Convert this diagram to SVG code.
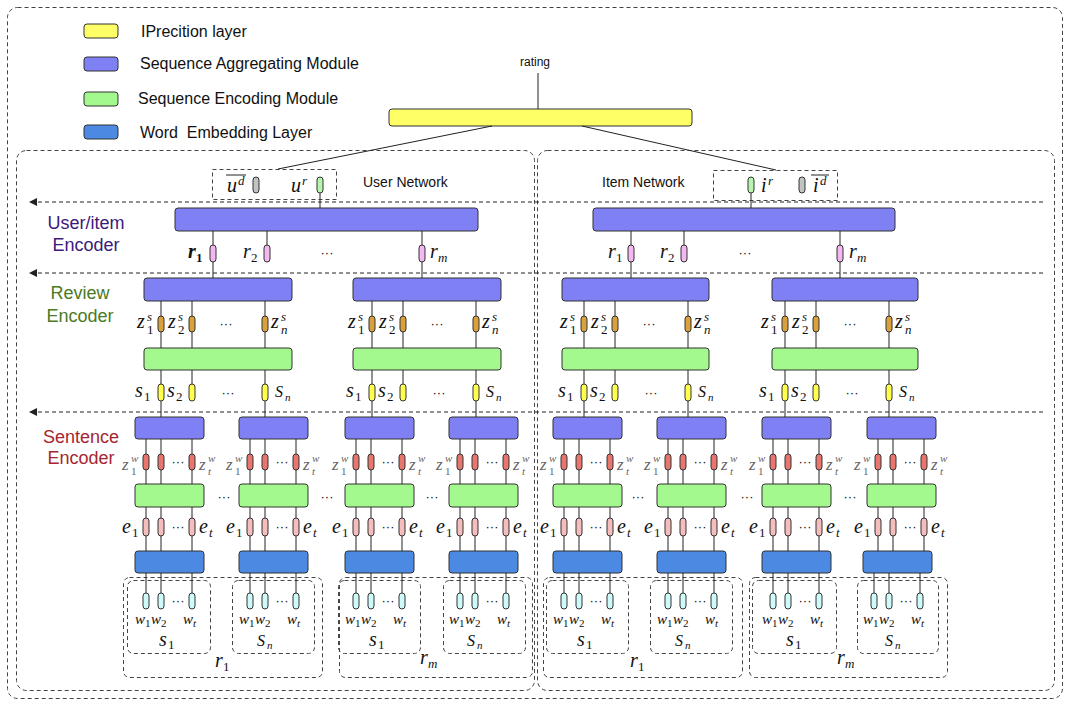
<svg xmlns="http://www.w3.org/2000/svg" width="1070" height="706" viewBox="0 0 1070 706">
<defs>
<marker id="ah" markerWidth="8" markerHeight="8" refX="8" refY="4" orient="auto" markerUnits="userSpaceOnUse"><path d="M0,0 L8,4 L0,8 z" fill="#222"/></marker>
<style>
.d{fill:none;stroke:#444;stroke-width:1;stroke-dasharray:4 3}
.da{fill:none;stroke:#222;stroke-width:1;stroke-dasharray:4 3}
.c{fill:none;stroke:#222;stroke-width:1}
.pu{fill:#7e80f4;stroke:#333;stroke-width:1}
.gr{fill:#a3f98d;stroke:#333;stroke-width:1}
.bl{fill:#4b89e2;stroke:#333;stroke-width:1}
.ye{fill:#fefe66;stroke:#333;stroke-width:1}
.p{stroke:#333;stroke-width:1}
.zs{fill:#d8a13c}.sy{fill:#ffff4d}.rp{fill:#f3b8f1}.zw{fill:#e9766e}.ep{fill:#f6bdbd}.wp{fill:#cefafa}.gp{fill:#c2c2c2}.gg{fill:#b6f5ae}
.t{font-family:"Liberation Sans",Arial,sans-serif;fill:#111}
.lg{font-size:16px}
.dt{font-size:13px;text-anchor:middle}
.m{font-family:"Liberation Serif","Times New Roman",serif;font-style:italic;fill:#111}
.n{font-style:normal}
.b{font-weight:bold}
.f20{font-size:20px}.f19{font-size:19px}.f17{font-size:17px}.f16{font-size:16px}.f15{font-size:15px}.f13{font-size:13px}.f12{font-size:12px}.f11{font-size:11px}
.gz{fill:#666}
</style>
</defs>
<rect width="1070" height="706" fill="#fff"/>

<g id="frames">
<rect class="d" x="7.5" y="7.5" width="1055" height="691" rx="10"/>
<rect class="d" x="16.5" y="150.5" width="518" height="540" rx="10"/>
<rect class="d" x="537.5" y="150.5" width="517" height="540" rx="10"/>
</g>

<g id="legend">
<g id="lg-pred"><rect class="ye" x="84" y="24" width="34" height="14" rx="3"/><text class="t lg" x="141" y="37">IPrecition layer</text></g>
<g id="lg-agg"><rect class="pu" x="84" y="57" width="34" height="14" rx="3"/><text class="t lg" x="140" y="69">Sequence Aggregating Module</text></g>
<g id="lg-enc"><rect class="gr" x="84" y="92" width="34" height="14" rx="3"/><text class="t lg" x="138" y="104">Sequence Encoding Module</text></g>
<g id="lg-emb"><rect class="bl" x="84" y="125" width="34" height="14" rx="3"/><text class="t lg" x="140" y="138" style="white-space:pre">Word  Embedding Layer</text></g>
</g>

<g id="level-labels">
<text class="t" x="86" y="229" font-size="18" text-anchor="middle" style="fill:#3b1a7a">User/item</text>
<text class="t" x="86" y="251" font-size="18" text-anchor="middle" style="fill:#3b1a7a">Encoder</text>
<text class="t" x="80" y="299" font-size="18" text-anchor="middle" style="fill:#4a7a24">Review</text>
<text class="t" x="80" y="322" font-size="18" text-anchor="middle" style="fill:#4a7a24">Encoder</text>
<text class="t" x="81" y="443" font-size="18" text-anchor="middle" style="fill:#a62630">Sentence</text>
<text class="t" x="81" y="464" font-size="18" text-anchor="middle" style="fill:#a62630">Encoder</text>
</g>

<g id="rating-node">
<text class="t" x="535" y="66" font-size="12" text-anchor="middle">rating</text>
<rect class="ye" x="389" y="109" width="303" height="17" rx="3"/>
</g>

<g id="user-vec">
<rect class="d" x="212.5" y="169.5" width="124" height="30"/>
<line x1="226" y1="175" x2="246" y2="175" stroke="#222" stroke-width="1"/>
<text class="m f20" x="227" y="192">u<tspan class="f13" x="238" y="185">d</tspan></text>
<rect class="p gp" x="253" y="177" width="6" height="16" rx="3"/>
<text class="m f20" x="291" y="192">u<tspan class="f13" x="302" y="185">r</tspan></text>
<rect class="p gg" x="317" y="177" width="6" height="16" rx="3"/>
<text class="t" x="363" y="187" font-size="14">User Network</text>
</g>

<g id="item-vec">
<rect class="d" x="713.5" y="170.5" width="124" height="30"/>
<rect class="p gg" x="748" y="177" width="6" height="16" rx="3"/>
<text class="m f20" x="761" y="192">i<tspan class="f13" x="768" y="185">r</tspan></text>
<rect class="p gp" x="799" y="177" width="6" height="16" rx="3"/>
<line x1="811" y1="175" x2="829" y2="175" stroke="#222" stroke-width="1"/>
<text class="m f20" x="813" y="192">i<tspan class="f13" x="820" y="185">d</tspan></text>
<text class="t" x="602" y="187" font-size="14">Item Network</text>
</g>

<g id="user-encoder">
<rect class="pu" x="175" y="208" width="303" height="23" rx="3"/>
<rect class="p rp" x="210" y="245" width="6" height="17" rx="3"/>
<rect class="p rp" x="264" y="245" width="6" height="17" rx="3"/>
<rect class="p rp" x="419" y="245" width="6" height="17" rx="3"/>
<text class="m f20 b" x="188" y="258">r<tspan class="f13 n" x="196" y="262">1</tspan></text>
<text class="m f20" x="243" y="258">r<tspan class="f13 n" x="251" y="262">2</tspan></text>
<text class="t dt" x="327" y="257">···</text>
<text class="m f20" x="430" y="258">r<tspan class="f13" x="438" y="262">m</tspan></text>
</g>

<g id="item-encoder">
<rect class="pu" x="593" y="208" width="302" height="23" rx="3"/>
<rect class="p rp" x="628" y="245" width="6" height="17" rx="3"/>
<rect class="p rp" x="681" y="245" width="6" height="17" rx="3"/>
<rect class="p rp" x="837" y="245" width="6" height="17" rx="3"/>
<text class="m f20" x="608" y="258">r<tspan class="f13 n" x="616" y="262">1</tspan></text>
<text class="m f20" x="660" y="258">r<tspan class="f13 n" x="668" y="262">2</tspan></text>
<text class="t dt" x="745" y="257">···</text>
<text class="m f20" x="849" y="258">r<tspan class="f13" x="857" y="262">m</tspan></text>
</g>

<g id="revU1">
<rect class="pu" x="144" y="278" width="148" height="23" rx="3"/>
<rect class="p zs" x="158" y="316" width="6" height="16" rx="3"/><rect class="p zs" x="189" y="316" width="6" height="16" rx="3"/><rect class="p zs" x="262" y="316" width="6" height="16" rx="3"/>
<text class="m f20" x="137" y="328">z<tspan class="f13" x="147" y="321">s</tspan><tspan class="f13 n" x="147" y="334">1</tspan></text>
<text class="m f20" x="168" y="328">z<tspan class="f13" x="178" y="321">s</tspan><tspan class="f13 n" x="178" y="334">2</tspan></text>
<text class="t dt" x="226" y="328">···</text>
<text class="m f20" x="271" y="328">z<tspan class="f13" x="281" y="321">s</tspan><tspan class="f13" x="281" y="334">n</tspan></text>
<rect class="gr" x="144" y="348" width="148" height="22" rx="3"/>
<rect class="p sy" x="158" y="384" width="6" height="17" rx="3"/><rect class="p sy" x="189" y="384" width="6" height="17" rx="3"/><rect class="p sy" x="262" y="384" width="6" height="17" rx="3"/>
<text class="m f20" x="135" y="397">s<tspan class="f13 n" x="144" y="401">1</tspan></text>
<text class="m f20" x="167" y="397">s<tspan class="f13 n" x="176" y="401">2</tspan></text>
<text class="t dt" x="228" y="397">···</text>
<text class="m f16" x="275" y="397">S<tspan class="f11" x="285" y="401">n</tspan></text>
</g>

<g id="revU2">
<rect class="pu" x="353" y="278" width="148" height="23" rx="3"/>
<rect class="p zs" x="369" y="316" width="6" height="16" rx="3"/><rect class="p zs" x="400" y="316" width="6" height="16" rx="3"/><rect class="p zs" x="473" y="316" width="6" height="16" rx="3"/>
<text class="m f20" x="348" y="328">z<tspan class="f13" x="358" y="321">s</tspan><tspan class="f13 n" x="358" y="334">1</tspan></text>
<text class="m f20" x="379" y="328">z<tspan class="f13" x="389" y="321">s</tspan><tspan class="f13 n" x="389" y="334">2</tspan></text>
<text class="t dt" x="437" y="328">···</text>
<text class="m f20" x="482" y="328">z<tspan class="f13" x="492" y="321">s</tspan><tspan class="f13" x="492" y="334">n</tspan></text>
<rect class="gr" x="353" y="348" width="148" height="22" rx="3"/>
<rect class="p sy" x="369" y="384" width="6" height="17" rx="3"/><rect class="p sy" x="400" y="384" width="6" height="17" rx="3"/><rect class="p sy" x="473" y="384" width="6" height="17" rx="3"/>
<text class="m f20" x="346" y="397">s<tspan class="f13 n" x="355" y="401">1</tspan></text>
<text class="m f20" x="378" y="397">s<tspan class="f13 n" x="387" y="401">2</tspan></text>
<text class="t dt" x="439" y="397">···</text>
<text class="m f16" x="486" y="397">S<tspan class="f11" x="496" y="401">n</tspan></text>
</g>

<g id="revI1">
<rect class="pu" x="562" y="278" width="147" height="23" rx="3"/>
<rect class="p zs" x="581" y="316" width="6" height="16" rx="3"/><rect class="p zs" x="612" y="316" width="6" height="16" rx="3"/><rect class="p zs" x="685" y="316" width="6" height="16" rx="3"/>
<text class="m f20" x="560" y="328">z<tspan class="f13" x="570" y="321">s</tspan><tspan class="f13 n" x="570" y="334">1</tspan></text>
<text class="m f20" x="591" y="328">z<tspan class="f13" x="601" y="321">s</tspan><tspan class="f13 n" x="601" y="334">2</tspan></text>
<text class="t dt" x="649" y="328">···</text>
<text class="m f20" x="694" y="328">z<tspan class="f13" x="704" y="321">s</tspan><tspan class="f13" x="704" y="334">n</tspan></text>
<rect class="gr" x="562" y="348" width="147" height="22" rx="3"/>
<rect class="p sy" x="581" y="384" width="6" height="17" rx="3"/><rect class="p sy" x="612" y="384" width="6" height="17" rx="3"/><rect class="p sy" x="685" y="384" width="6" height="17" rx="3"/>
<text class="m f20" x="558" y="397">s<tspan class="f13 n" x="567" y="401">1</tspan></text>
<text class="m f20" x="590" y="397">s<tspan class="f13 n" x="599" y="401">2</tspan></text>
<text class="t dt" x="651" y="397">···</text>
<text class="m f16" x="698" y="397">S<tspan class="f11" x="708" y="401">n</tspan></text>
</g>

<g id="revI2">
<rect class="pu" x="772" y="278" width="146" height="23" rx="3"/>
<rect class="p zs" x="782" y="316" width="6" height="16" rx="3"/><rect class="p zs" x="813" y="316" width="6" height="16" rx="3"/><rect class="p zs" x="886" y="316" width="6" height="16" rx="3"/>
<text class="m f20" x="761" y="328">z<tspan class="f13" x="771" y="321">s</tspan><tspan class="f13 n" x="771" y="334">1</tspan></text>
<text class="m f20" x="792" y="328">z<tspan class="f13" x="802" y="321">s</tspan><tspan class="f13 n" x="802" y="334">2</tspan></text>
<text class="t dt" x="850" y="328">···</text>
<text class="m f20" x="895" y="328">z<tspan class="f13" x="905" y="321">s</tspan><tspan class="f13" x="905" y="334">n</tspan></text>
<rect class="gr" x="772" y="348" width="146" height="22" rx="3"/>
<rect class="p sy" x="782" y="384" width="6" height="17" rx="3"/><rect class="p sy" x="813" y="384" width="6" height="17" rx="3"/><rect class="p sy" x="886" y="384" width="6" height="17" rx="3"/>
<text class="m f20" x="759" y="397">s<tspan class="f13 n" x="768" y="401">1</tspan></text>
<text class="m f20" x="791" y="397">s<tspan class="f13 n" x="800" y="401">2</tspan></text>
<text class="t dt" x="852" y="397">···</text>
<text class="m f16" x="899" y="397">S<tspan class="f11" x="909" y="401">n</tspan></text>
</g>

<g id="sentU1" transform="translate(135,0)">
<rect class="pu" x="0" y="417" width="69" height="22" rx="3"/>
<rect class="p zw" x="8" y="454" width="6" height="16" rx="3"/><rect class="p zw" x="23" y="454" width="6" height="16" rx="3"/><rect class="p zw" x="54" y="454" width="6" height="16" rx="3"/>
<text class="m f17 gz" x="-13" y="470">z<tspan class="f11" x="-4" y="462">w</tspan><tspan class="f11 n" x="-4" y="475">1</tspan></text>
<text class="t dt" x="43" y="466">···</text>
<text class="m f17 gz" x="64" y="470">z<tspan class="f11" x="73" y="462">w</tspan><tspan class="f11" x="73" y="475">t</tspan></text>
<rect class="gr" x="0" y="484" width="69" height="23" rx="3"/>
<rect class="p ep" x="8" y="518" width="6" height="18" rx="3"/><rect class="p ep" x="23" y="518" width="6" height="18" rx="3"/><rect class="p ep" x="54" y="518" width="6" height="18" rx="3"/>
<text class="m f20" x="-13" y="533">e<tspan class="f13 n" x="-3" y="537">1</tspan></text>
<text class="t dt" x="43" y="531">···</text>
<text class="m f20" x="64" y="533">e<tspan class="f13" x="74" y="537">t</tspan></text>
<rect class="bl" x="0" y="551" width="69" height="22" rx="3"/>
<rect class="p wp" x="8" y="593" width="6" height="16" rx="3"/><rect class="p wp" x="23" y="593" width="6" height="16" rx="3"/><rect class="p wp" x="54" y="593" width="6" height="16" rx="3"/>
<text class="m f15" x="0" y="624">w<tspan class="f11 n" x="10" y="627">1</tspan><tspan x="16" y="624">w</tspan><tspan class="f11 n" x="26" y="627">2</tspan></text>
<text class="t dt" x="43" y="605">···</text>
<text class="m f15" x="48" y="624">w<tspan class="f11" x="58" y="627">t</tspan></text>
<rect class="d" x="-7.5" y="580.5" width="83" height="73" rx="6"/>
<text class="m f20" x="24" y="646">s<tspan class="f13 n" x="33" y="649">1</tspan></text>
</g>

<g id="sentU2" transform="translate(239,0)">
<rect class="pu" x="0" y="417" width="69" height="22" rx="3"/>
<rect class="p zw" x="8" y="454" width="6" height="16" rx="3"/><rect class="p zw" x="23" y="454" width="6" height="16" rx="3"/><rect class="p zw" x="54" y="454" width="6" height="16" rx="3"/>
<text class="m f17 gz" x="-13" y="470">z<tspan class="f11" x="-4" y="462">w</tspan><tspan class="f11 n" x="-4" y="475">1</tspan></text>
<text class="t dt" x="43" y="466">···</text>
<text class="m f17 gz" x="64" y="470">z<tspan class="f11" x="73" y="462">w</tspan><tspan class="f11" x="73" y="475">t</tspan></text>
<rect class="gr" x="0" y="484" width="69" height="23" rx="3"/>
<rect class="p ep" x="8" y="518" width="6" height="18" rx="3"/><rect class="p ep" x="23" y="518" width="6" height="18" rx="3"/><rect class="p ep" x="54" y="518" width="6" height="18" rx="3"/>
<text class="m f20" x="-13" y="533">e<tspan class="f13 n" x="-3" y="537">1</tspan></text>
<text class="t dt" x="43" y="531">···</text>
<text class="m f20" x="64" y="533">e<tspan class="f13" x="74" y="537">t</tspan></text>
<rect class="bl" x="0" y="551" width="69" height="22" rx="3"/>
<rect class="p wp" x="8" y="593" width="6" height="16" rx="3"/><rect class="p wp" x="23" y="593" width="6" height="16" rx="3"/><rect class="p wp" x="54" y="593" width="6" height="16" rx="3"/>
<text class="m f15" x="0" y="624">w<tspan class="f11 n" x="10" y="627">1</tspan><tspan x="16" y="624">w</tspan><tspan class="f11 n" x="26" y="627">2</tspan></text>
<text class="t dt" x="43" y="605">···</text>
<text class="m f15" x="48" y="624">w<tspan class="f11" x="58" y="627">t</tspan></text>
<rect class="d" x="-6.5" y="580.5" width="82" height="73" rx="6"/>
<text class="m f16" x="18" y="646">S<tspan class="f11" x="28" y="649">n</tspan></text>
</g>

<g id="sentU3" transform="translate(345,0)">
<rect class="pu" x="0" y="417" width="69" height="22" rx="3"/>
<rect class="p zw" x="8" y="454" width="6" height="16" rx="3"/><rect class="p zw" x="23" y="454" width="6" height="16" rx="3"/><rect class="p zw" x="54" y="454" width="6" height="16" rx="3"/>
<text class="m f17 gz" x="-13" y="470">z<tspan class="f11" x="-4" y="462">w</tspan><tspan class="f11 n" x="-4" y="475">1</tspan></text>
<text class="t dt" x="43" y="466">···</text>
<text class="m f17 gz" x="64" y="470">z<tspan class="f11" x="73" y="462">w</tspan><tspan class="f11" x="73" y="475">t</tspan></text>
<rect class="gr" x="0" y="484" width="69" height="23" rx="3"/>
<rect class="p ep" x="8" y="518" width="6" height="18" rx="3"/><rect class="p ep" x="23" y="518" width="6" height="18" rx="3"/><rect class="p ep" x="54" y="518" width="6" height="18" rx="3"/>
<text class="m f20" x="-13" y="533">e<tspan class="f13 n" x="-3" y="537">1</tspan></text>
<text class="t dt" x="43" y="531">···</text>
<text class="m f20" x="64" y="533">e<tspan class="f13" x="74" y="537">t</tspan></text>
<rect class="bl" x="0" y="551" width="69" height="22" rx="3"/>
<rect class="p wp" x="8" y="593" width="6" height="16" rx="3"/><rect class="p wp" x="23" y="593" width="6" height="16" rx="3"/><rect class="p wp" x="54" y="593" width="6" height="16" rx="3"/>
<text class="m f15" x="0" y="624">w<tspan class="f11 n" x="10" y="627">1</tspan><tspan x="16" y="624">w</tspan><tspan class="f11 n" x="26" y="627">2</tspan></text>
<text class="t dt" x="43" y="605">···</text>
<text class="m f15" x="48" y="624">w<tspan class="f11" x="58" y="627">t</tspan></text>
<rect class="d" x="-6.5" y="580.5" width="82" height="73" rx="6"/>
<text class="m f20" x="24" y="646">s<tspan class="f13 n" x="33" y="649">1</tspan></text>
</g>

<g id="sentU4" transform="translate(449,0)">
<rect class="pu" x="0" y="417" width="69" height="22" rx="3"/>
<rect class="p zw" x="8" y="454" width="6" height="16" rx="3"/><rect class="p zw" x="23" y="454" width="6" height="16" rx="3"/><rect class="p zw" x="54" y="454" width="6" height="16" rx="3"/>
<text class="m f17 gz" x="-13" y="470">z<tspan class="f11" x="-4" y="462">w</tspan><tspan class="f11 n" x="-4" y="475">1</tspan></text>
<text class="t dt" x="43" y="466">···</text>
<text class="m f17 gz" x="64" y="470">z<tspan class="f11" x="73" y="462">w</tspan><tspan class="f11" x="73" y="475">t</tspan></text>
<rect class="gr" x="0" y="484" width="69" height="23" rx="3"/>
<rect class="p ep" x="8" y="518" width="6" height="18" rx="3"/><rect class="p ep" x="23" y="518" width="6" height="18" rx="3"/><rect class="p ep" x="54" y="518" width="6" height="18" rx="3"/>
<text class="m f20" x="-13" y="533">e<tspan class="f13 n" x="-3" y="537">1</tspan></text>
<text class="t dt" x="43" y="531">···</text>
<text class="m f20" x="64" y="533">e<tspan class="f13" x="74" y="537">t</tspan></text>
<rect class="bl" x="0" y="551" width="69" height="22" rx="3"/>
<rect class="p wp" x="8" y="593" width="6" height="16" rx="3"/><rect class="p wp" x="23" y="593" width="6" height="16" rx="3"/><rect class="p wp" x="54" y="593" width="6" height="16" rx="3"/>
<text class="m f15" x="0" y="624">w<tspan class="f11 n" x="10" y="627">1</tspan><tspan x="16" y="624">w</tspan><tspan class="f11 n" x="26" y="627">2</tspan></text>
<text class="t dt" x="43" y="605">···</text>
<text class="m f15" x="48" y="624">w<tspan class="f11" x="58" y="627">t</tspan></text>
<rect class="d" x="-5.5" y="580.5" width="82" height="73" rx="6"/>
<text class="m f16" x="18" y="646">S<tspan class="f11" x="28" y="649">n</tspan></text>
</g>

<g id="sentI1" transform="translate(553,0)">
<rect class="pu" x="0" y="417" width="69" height="22" rx="3"/>
<rect class="p zw" x="8" y="454" width="6" height="16" rx="3"/><rect class="p zw" x="23" y="454" width="6" height="16" rx="3"/><rect class="p zw" x="54" y="454" width="6" height="16" rx="3"/>
<text class="m f17 gz" x="-13" y="470">z<tspan class="f11" x="-4" y="462">w</tspan><tspan class="f11 n" x="-4" y="475">1</tspan></text>
<text class="t dt" x="43" y="466">···</text>
<text class="m f17 gz" x="64" y="470">z<tspan class="f11" x="73" y="462">w</tspan><tspan class="f11" x="73" y="475">t</tspan></text>
<rect class="gr" x="0" y="484" width="69" height="23" rx="3"/>
<rect class="p ep" x="8" y="518" width="6" height="18" rx="3"/><rect class="p ep" x="23" y="518" width="6" height="18" rx="3"/><rect class="p ep" x="54" y="518" width="6" height="18" rx="3"/>
<text class="m f20" x="-13" y="533">e<tspan class="f13 n" x="-3" y="537">1</tspan></text>
<text class="t dt" x="43" y="531">···</text>
<text class="m f20" x="64" y="533">e<tspan class="f13" x="74" y="537">t</tspan></text>
<rect class="bl" x="0" y="551" width="69" height="22" rx="3"/>
<rect class="p wp" x="8" y="593" width="6" height="16" rx="3"/><rect class="p wp" x="23" y="593" width="6" height="16" rx="3"/><rect class="p wp" x="54" y="593" width="6" height="16" rx="3"/>
<text class="m f15" x="0" y="624">w<tspan class="f11 n" x="10" y="627">1</tspan><tspan x="16" y="624">w</tspan><tspan class="f11 n" x="26" y="627">2</tspan></text>
<text class="t dt" x="43" y="605">···</text>
<text class="m f15" x="48" y="624">w<tspan class="f11" x="58" y="627">t</tspan></text>
<rect class="d" x="-6.5" y="580.5" width="82" height="73" rx="6"/>
<text class="m f20" x="24" y="646">s<tspan class="f13 n" x="33" y="649">1</tspan></text>
</g>

<g id="sentI2" transform="translate(657,0)">
<rect class="pu" x="0" y="417" width="69" height="22" rx="3"/>
<rect class="p zw" x="8" y="454" width="6" height="16" rx="3"/><rect class="p zw" x="23" y="454" width="6" height="16" rx="3"/><rect class="p zw" x="54" y="454" width="6" height="16" rx="3"/>
<text class="m f17 gz" x="-13" y="470">z<tspan class="f11" x="-4" y="462">w</tspan><tspan class="f11 n" x="-4" y="475">1</tspan></text>
<text class="t dt" x="43" y="466">···</text>
<text class="m f17 gz" x="64" y="470">z<tspan class="f11" x="73" y="462">w</tspan><tspan class="f11" x="73" y="475">t</tspan></text>
<rect class="gr" x="0" y="484" width="69" height="23" rx="3"/>
<rect class="p ep" x="8" y="518" width="6" height="18" rx="3"/><rect class="p ep" x="23" y="518" width="6" height="18" rx="3"/><rect class="p ep" x="54" y="518" width="6" height="18" rx="3"/>
<text class="m f20" x="-13" y="533">e<tspan class="f13 n" x="-3" y="537">1</tspan></text>
<text class="t dt" x="43" y="531">···</text>
<text class="m f20" x="64" y="533">e<tspan class="f13" x="74" y="537">t</tspan></text>
<rect class="bl" x="0" y="551" width="69" height="22" rx="3"/>
<rect class="p wp" x="8" y="593" width="6" height="16" rx="3"/><rect class="p wp" x="23" y="593" width="6" height="16" rx="3"/><rect class="p wp" x="54" y="593" width="6" height="16" rx="3"/>
<text class="m f15" x="0" y="624">w<tspan class="f11 n" x="10" y="627">1</tspan><tspan x="16" y="624">w</tspan><tspan class="f11 n" x="26" y="627">2</tspan></text>
<text class="t dt" x="43" y="605">···</text>
<text class="m f15" x="48" y="624">w<tspan class="f11" x="58" y="627">t</tspan></text>
<rect class="d" x="-6.5" y="580.5" width="82" height="73" rx="6"/>
<text class="m f16" x="18" y="646">S<tspan class="f11" x="28" y="649">n</tspan></text>
</g>

<g id="sentI3" transform="translate(762,0)">
<rect class="pu" x="0" y="417" width="69" height="22" rx="3"/>
<rect class="p zw" x="8" y="454" width="6" height="16" rx="3"/><rect class="p zw" x="23" y="454" width="6" height="16" rx="3"/><rect class="p zw" x="54" y="454" width="6" height="16" rx="3"/>
<text class="m f17 gz" x="-13" y="470">z<tspan class="f11" x="-4" y="462">w</tspan><tspan class="f11 n" x="-4" y="475">1</tspan></text>
<text class="t dt" x="43" y="466">···</text>
<text class="m f17 gz" x="64" y="470">z<tspan class="f11" x="73" y="462">w</tspan><tspan class="f11" x="73" y="475">t</tspan></text>
<rect class="gr" x="0" y="484" width="69" height="23" rx="3"/>
<rect class="p ep" x="8" y="518" width="6" height="18" rx="3"/><rect class="p ep" x="23" y="518" width="6" height="18" rx="3"/><rect class="p ep" x="54" y="518" width="6" height="18" rx="3"/>
<text class="m f20" x="-13" y="533">e<tspan class="f13 n" x="-3" y="537">1</tspan></text>
<text class="t dt" x="43" y="531">···</text>
<text class="m f20" x="64" y="533">e<tspan class="f13" x="74" y="537">t</tspan></text>
<rect class="bl" x="0" y="551" width="69" height="22" rx="3"/>
<rect class="p wp" x="8" y="593" width="6" height="16" rx="3"/><rect class="p wp" x="23" y="593" width="6" height="16" rx="3"/><rect class="p wp" x="54" y="593" width="6" height="16" rx="3"/>
<text class="m f15" x="0" y="624">w<tspan class="f11 n" x="10" y="627">1</tspan><tspan x="16" y="624">w</tspan><tspan class="f11 n" x="26" y="627">2</tspan></text>
<text class="t dt" x="43" y="605">···</text>
<text class="m f15" x="48" y="624">w<tspan class="f11" x="58" y="627">t</tspan></text>
<rect class="d" x="-9.5" y="580.5" width="84" height="73" rx="6"/>
<text class="m f20" x="24" y="646">s<tspan class="f13 n" x="33" y="649">1</tspan></text>
</g>

<g id="sentI4" transform="translate(867,0)">
<rect class="pu" x="0" y="417" width="69" height="22" rx="3"/>
<rect class="p zw" x="8" y="454" width="6" height="16" rx="3"/><rect class="p zw" x="23" y="454" width="6" height="16" rx="3"/><rect class="p zw" x="54" y="454" width="6" height="16" rx="3"/>
<text class="m f17 gz" x="-13" y="470">z<tspan class="f11" x="-4" y="462">w</tspan><tspan class="f11 n" x="-4" y="475">1</tspan></text>
<text class="t dt" x="43" y="466">···</text>
<text class="m f17 gz" x="64" y="470">z<tspan class="f11" x="73" y="462">w</tspan><tspan class="f11" x="73" y="475">t</tspan></text>
<rect class="gr" x="0" y="484" width="69" height="23" rx="3"/>
<rect class="p ep" x="8" y="518" width="6" height="18" rx="3"/><rect class="p ep" x="23" y="518" width="6" height="18" rx="3"/><rect class="p ep" x="54" y="518" width="6" height="18" rx="3"/>
<text class="m f20" x="-13" y="533">e<tspan class="f13 n" x="-3" y="537">1</tspan></text>
<text class="t dt" x="43" y="531">···</text>
<text class="m f20" x="64" y="533">e<tspan class="f13" x="74" y="537">t</tspan></text>
<rect class="bl" x="-4" y="551" width="69" height="22" rx="3"/>
<rect class="p wp" x="4" y="593" width="6" height="16" rx="3"/><rect class="p wp" x="19" y="593" width="6" height="16" rx="3"/><rect class="p wp" x="50" y="593" width="6" height="16" rx="3"/>
<text class="m f15" x="-4" y="624">w<tspan class="f11 n" x="6" y="627">1</tspan><tspan x="12" y="624">w</tspan><tspan class="f11 n" x="22" y="627">2</tspan></text>
<text class="t dt" x="39" y="605">···</text>
<text class="m f15" x="44" y="624">w<tspan class="f11" x="54" y="627">t</tspan></text>
<rect class="d" x="-9.5" y="580.5" width="81" height="73" rx="6"/>
<text class="m f16" x="18" y="646">S<tspan class="f11" x="28" y="649">n</tspan></text>
</g>

<g id="between-dots">
<text class="t dt" x="224" y="501">···</text>
<text class="t dt" x="327" y="501">···</text>
<text class="t dt" x="432" y="501">···</text>
<text class="t dt" x="638" y="501">···</text>
<text class="t dt" x="747" y="501">···</text>
<text class="t dt" x="850" y="501">···</text>
</g>

<g id="reviews">
<g id="revU1-box"><rect class="d" x="123.5" y="577.5" width="199" height="100" rx="6"/><text class="m f20" x="215" y="667">r<tspan class="f13 n" x="223" y="671">1</tspan></text></g>
<g id="revU2-box"><rect class="d" x="339.5" y="577.5" width="193" height="100" rx="6"/><text class="m f20" x="420" y="664">r<tspan class="f13" x="428" y="668">m</tspan></text></g>
<g id="revI1-box"><rect class="d" x="543.5" y="577.5" width="199" height="100" rx="6"/><text class="m f20" x="630" y="667">r<tspan class="f13 n" x="638" y="671">1</tspan></text></g>
<g id="revI2-box"><rect class="d" x="749.5" y="577.5" width="198" height="100" rx="6"/><text class="m f20" x="837" y="664">r<tspan class="f13" x="845" y="668">m</tspan></text></g>
</g>

<g id="connectors">
<path class="da" d="M1043 202H29" marker-end="url(#ah)"/>
<path class="da" d="M1043 273H29" marker-end="url(#ah)"/>
<path class="da" d="M1043 412H29" marker-end="url(#ah)"/>
<path class="c" d="M538 73V109M492 126L278 169M582 126L776 170"/>
<path class="c" d="M320 193V208M751 193V208"/>
<path class="c" d="M213 231V245M267 231V245M422 231V245M213 262V278M422 262V278"/>
<path class="c" d="M631 231V245M684 231V245M840 231V245M631 262V278M840 262V278"/>
<path class="c" d="M161 301V316M192 301V316M265 301V316M161 332V348M192 332V348M265 332V348M161 370V384M192 370V384M265 370V384M161 401V417M265 401V417"/>
<path class="c" d="M372 301V316M403 301V316M476 301V316M372 332V348M403 332V348M476 332V348M372 370V384M403 370V384M476 370V384M372 401V417M476 401V417"/>
<path class="c" d="M584 301V316M615 301V316M688 301V316M584 332V348M615 332V348M688 332V348M584 370V384M615 370V384M688 370V384M584 401V417M688 401V417"/>
<path class="c" d="M785 301V316M816 301V316M889 301V316M785 332V348M816 332V348M889 332V348M785 370V384M816 370V384M889 370V384M785 401V417M889 401V417"/>
<path class="c" transform="translate(135,0)" d="M11 439V454M26 439V454M57 439V454M11 470V484M26 470V484M57 470V484M11 507V518M26 507V518M57 507V518M11 536V551M26 536V551M57 536V551M11 573V593M26 573V593M57 573V593"/>
<path class="c" transform="translate(239,0)" d="M11 439V454M26 439V454M57 439V454M11 470V484M26 470V484M57 470V484M11 507V518M26 507V518M57 507V518M11 536V551M26 536V551M57 536V551M11 573V593M26 573V593M57 573V593"/>
<path class="c" transform="translate(345,0)" d="M11 439V454M26 439V454M57 439V454M11 470V484M26 470V484M57 470V484M11 507V518M26 507V518M57 507V518M11 536V551M26 536V551M57 536V551M11 573V593M26 573V593M57 573V593"/>
<path class="c" transform="translate(449,0)" d="M11 439V454M26 439V454M57 439V454M11 470V484M26 470V484M57 470V484M11 507V518M26 507V518M57 507V518M11 536V551M26 536V551M57 536V551M11 573V593M26 573V593M57 573V593"/>
<path class="c" transform="translate(553,0)" d="M11 439V454M26 439V454M57 439V454M11 470V484M26 470V484M57 470V484M11 507V518M26 507V518M57 507V518M11 536V551M26 536V551M57 536V551M11 573V593M26 573V593M57 573V593"/>
<path class="c" transform="translate(657,0)" d="M11 439V454M26 439V454M57 439V454M11 470V484M26 470V484M57 470V484M11 507V518M26 507V518M57 507V518M11 536V551M26 536V551M57 536V551M11 573V593M26 573V593M57 573V593"/>
<path class="c" transform="translate(762,0)" d="M11 439V454M26 439V454M57 439V454M11 470V484M26 470V484M57 470V484M11 507V518M26 507V518M57 507V518M11 536V551M26 536V551M57 536V551M11 573V593M26 573V593M57 573V593"/>
<path class="c" transform="translate(867,0)" d="M11 439V454M26 439V454M57 439V454M11 470V484M26 470V484M57 470V484M11 507V518M26 507V518M57 507V518M11 536V551M26 536V551M57 536V551M7 573V593M22 573V593M53 573V593"/>
</g>
</svg>
